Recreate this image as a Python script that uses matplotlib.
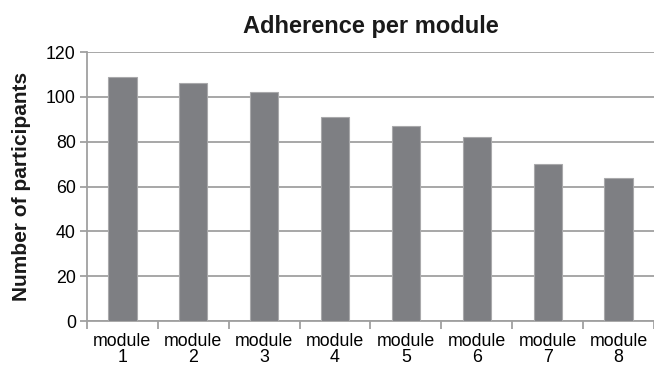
import matplotlib
matplotlib.use("Agg")
import matplotlib.pyplot as plt
import numpy as np

plt.rcParams['font.family'] = ['Liberation Sans', 'DejaVu Sans']

# participants completing each module
modules = ["module\n1", "module\n2", "module\n3", "module\n4",
           "module\n5", "module\n6", "module\n7", "module\n8"]
participants = [109, 106, 102, 91, 87, 82, 70, 64]

fig = plt.figure(figsize=(6.54, 3.67), dpi=100)
ax = fig.add_axes([0.133, 0.125, 0.867, 0.733])

x = np.arange(len(modules))
ax.bar(x, participants, width=0.4, color='#7e7f83', edgecolor='#a9a9ab',
       linewidth=0.8, zorder=3)

ax.set_xlim(-0.5, len(modules) - 0.5)
ax.set_ylim(0, 120)
ax.set_yticks(np.arange(0, 121, 20))
ax.yaxis.grid(True, color='#a0a0a0', linewidth=1.3, zorder=0)

# category boundaries carry the ticks, labels sit in the middle
ax.set_xticks(np.arange(-0.5, len(modules), 1.0))
ax.set_xticklabels([])
ax.set_xticks(x, minor=True)
ax.set_xticklabels(modules, minor=True, fontsize=12.8, linespacing=0.9)
ax.tick_params(axis='x', which='major', length=6, color='#a0a0a0', width=1.3)
ax.tick_params(axis='x', which='minor', length=0, pad=8.5)
ax.tick_params(axis='y', length=5, color='#a0a0a0', width=1.3, labelsize=12.8,
               pad=3)

for side in ['top', 'right']:
    ax.spines[side].set_visible(False)
for side in ['left', 'bottom']:
    ax.spines[side].set_color('#a0a0a0')
    ax.spines[side].set_linewidth(1.3)

ax.set_title("Adherence per module", fontsize=17, fontweight='bold', pad=14,
             color='#1a1a1a')
ax.set_ylabel("Number of participants", fontsize=15, fontweight='bold',
              labelpad=11, color='#1a1a1a')

fig.savefig("out.png", dpi=100)
